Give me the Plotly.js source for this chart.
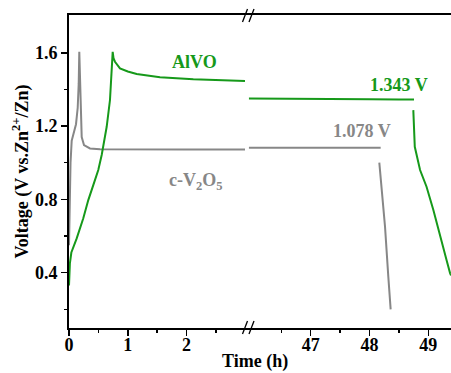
<!DOCTYPE html>
<html>
<head>
<meta charset="utf-8">
<script src="https://cdn.plot.ly/plotly-3.0.1.min.js"></script>
<style>html,body{margin:0;padding:0;background:#fff;}#chart{width:451px;height:373px;}</style>
</head>
<body>
<div id="chart"></div>
<script>
// ---- data (time in h, voltage in V) ----
const alvoTimeEarly = [0, 0.015, 0.04, 0.131, 0.243, 0.328, 0.413, 0.498, 0.556, 0.583, 0.641, 0.697, 0.736, 0.743, 0.757, 0.782, 0.867, 1.0, 1.151, 1.378, 1.548, 2.114, 2.6, 2.993];
const alvoVoltEarly = [0.33, 0.45, 0.51, 0.587, 0.697, 0.796, 0.878, 0.960, 1.042, 1.087, 1.196, 1.342, 1.524, 1.605, 1.57, 1.551, 1.515, 1.498, 1.484, 1.473, 1.466, 1.455, 1.45, 1.446];
const alvoTimeLate = [45.95, 46.5, 47.0, 47.5, 48.0, 48.5, 48.757, null, 48.745, 48.77, 48.86, 48.97, 49.086, 49.20, 49.26, 49.31, 49.37, 49.386];
const alvoVoltLate = [1.350, 1.348, 1.347, 1.346, 1.346, 1.345, 1.345, null, 1.287, 1.087, 0.96, 0.869, 0.742, 0.596, 0.524, 0.469, 0.397, 0.385];

const cv2o5TimeEarly = [0, 0.012, 0.026, 0.046, 0.073, 0.119, 0.148, 0.165, 0.175, 0.187, 0.199, 0.216, 0.255, 0.357, 0.527, 1.0, 1.38, 2.0, 2.993];
const cv2o5VoltEarly = [0.55, 0.85, 1.0, 1.12, 1.16, 1.21, 1.30, 1.43, 1.605, 1.43, 1.25, 1.14, 1.096, 1.078, 1.073, 1.072, 1.072, 1.072, 1.072];
const cv2o5TimeLate = [45.95, 46.5, 47.0, 47.5, 48.0, 48.19, null, 48.167, 48.264, 48.32, 48.36];
const cv2o5VoltLate = [1.082, 1.082, 1.081, 1.081, 1.081, 1.081, null, 1.0, 0.651, 0.378, 0.2];

const xTicksEarly = [0, 1, 2];
const xMinorEarly = [0.5, 1.5, 2.5];
const xTicksLate = [47, 48, 49];
const xMinorLate = [46.5, 47.5, 48.5];
const yTicks = [0.4, 0.8, 1.2, 1.6];
const yMinor = [0.2, 0.6, 1.0, 1.4];

const labelAlvo = 'AlVO';
const labelCv = 'c-V<sub>2</sub>O<sub>5</sub>';
const labelAlvoV = '1.343 V';
const labelCvV = '1.078 V';

// ---- styling ----
const GREEN = '#16991a';
const GRAY = '#878787';
const FONT = 'Liberation Serif, Times New Roman, serif';
const W = 451, H = 373, ML = 69, MR = 0, MT = 15, MB = 45;
const PW = W - ML - MR, PH = H - MT - MB;
const breakPx = 248;
const split = (breakPx - ML) / PW;
const px2paperX = p => (p - ML) / PW;
const px2paperY = p => (H - MB - p) / PH;
const b = t => '<b>' + t + '</b>';

const traces = [
  {x: cv2o5TimeEarly, y: cv2o5VoltEarly, xaxis: 'x', yaxis: 'y', mode: 'lines', line: {color: GRAY, width: 2}, hoverinfo: 'skip', connectgaps: false},
  {x: cv2o5TimeLate, y: cv2o5VoltLate, xaxis: 'x2', yaxis: 'y', mode: 'lines', line: {color: GRAY, width: 2}, hoverinfo: 'skip', connectgaps: false},
  {x: alvoTimeEarly, y: alvoVoltEarly, xaxis: 'x', yaxis: 'y', mode: 'lines', line: {color: GREEN, width: 2}, hoverinfo: 'skip', connectgaps: false},
  {x: alvoTimeLate, y: alvoVoltLate, xaxis: 'x2', yaxis: 'y', mode: 'lines', line: {color: GREEN, width: 2}, hoverinfo: 'skip', connectgaps: false}
];

const axisCommon = {
  showline: true, linecolor: '#000', linewidth: 1.8, mirror: true,
  showgrid: false, zeroline: false,
  ticks: 'outside', ticklen: 6, tickwidth: 1.5, tickcolor: '#000',
  tickfont: {family: FONT, size: 18, color: '#000', weight: 'bold'}
};

const slash = (cx, cy) => ({
  type: 'line', xref: 'paper', yref: 'paper',
  x0: px2paperX(cx - 2.5), y0: px2paperY(cy + 6.5),
  x1: px2paperX(cx + 2.5), y1: px2paperY(cy - 6.5),
  line: {color: '#000', width: 1.3}
});

const layout = {
  width: W, height: H,
  margin: {l: ML, r: MR, t: MT, b: MB, pad: 0},
  paper_bgcolor: '#fff', plot_bgcolor: '#fff',
  showlegend: false,
  xaxis: Object.assign({}, axisCommon, {
    domain: [0, split], range: [0, (breakPx - ML) / 58.8], anchor: 'y',
    tickmode: 'array', tickvals: xTicksEarly, ticklabelstandoff: -6,
    minor: {ticks: 'outside', ticklen: 3, tickwidth: 1.5, tickcolor: '#000', tickmode: 'array', tickvals: xMinorEarly}
  }),
  xaxis2: Object.assign({}, axisCommon, {
    domain: [split, 1], range: [45.934, 49.386], anchor: 'y',
    tickmode: 'array', tickvals: xTicksLate, ticklabelstandoff: -6,
    minor: {ticks: 'outside', ticklen: 3, tickwidth: 1.5, tickcolor: '#000', tickmode: 'array', tickvals: xMinorLate}
  }),
  yaxis: Object.assign({}, axisCommon, {
    mirror: false, anchor: 'x', range: [0.098, 1.806],
    tickmode: 'array', tickvals: yTicks, ticktext: yTicks.map(v => v.toFixed(1)),
    minor: {ticks: 'outside', ticklen: 3, tickwidth: 1.5, tickcolor: '#000', tickmode: 'array', tickvals: yMinor},
    title: {text: b('Voltage (V vs.Zn<sup>2+</sup>/Zn)'), font: {family: FONT, size: 18, color: '#000', weight: 'bold'}, standoff: 2}
  }),
  shapes: [
    slash(245, 327.5), slash(251.5, 327.5),
    slash(245, 15.5), slash(251.5, 15.5)
  ],
  annotations: [
    {xref: 'x', yref: 'y', x: 2.13, y: 1.55, text: b(labelAlvo), showarrow: false, font: {family: FONT, size: 18, color: GREEN, weight: 'bold'}},
    {xref: 'x', yref: 'y', x: 2.16, y: 0.90, text: b(labelCv), showarrow: false, font: {family: FONT, size: 18, color: GRAY, weight: 'bold'}},
    {xref: 'x2', yref: 'y', x: 48.50, y: 1.424, text: b(labelAlvoV), showarrow: false, font: {family: FONT, size: 18, color: GREEN, weight: 'bold'}},
    {xref: 'x2', yref: 'y', x: 47.87, y: 1.173, text: b(labelCvV), showarrow: false, font: {family: FONT, size: 18, color: GRAY, weight: 'bold'}},
    {xref: 'paper', yref: 'paper', x: px2paperX(255), y: px2paperY(361), xanchor: 'center', yanchor: 'middle', text: b('Time (h)'), showarrow: false, font: {family: FONT, size: 18, color: '#000', weight: 'bold'}}
  ]
};

Plotly.newPlot('chart', traces, layout, {displayModeBar: false, staticPlot: true});
</script>
</body>
</html>
